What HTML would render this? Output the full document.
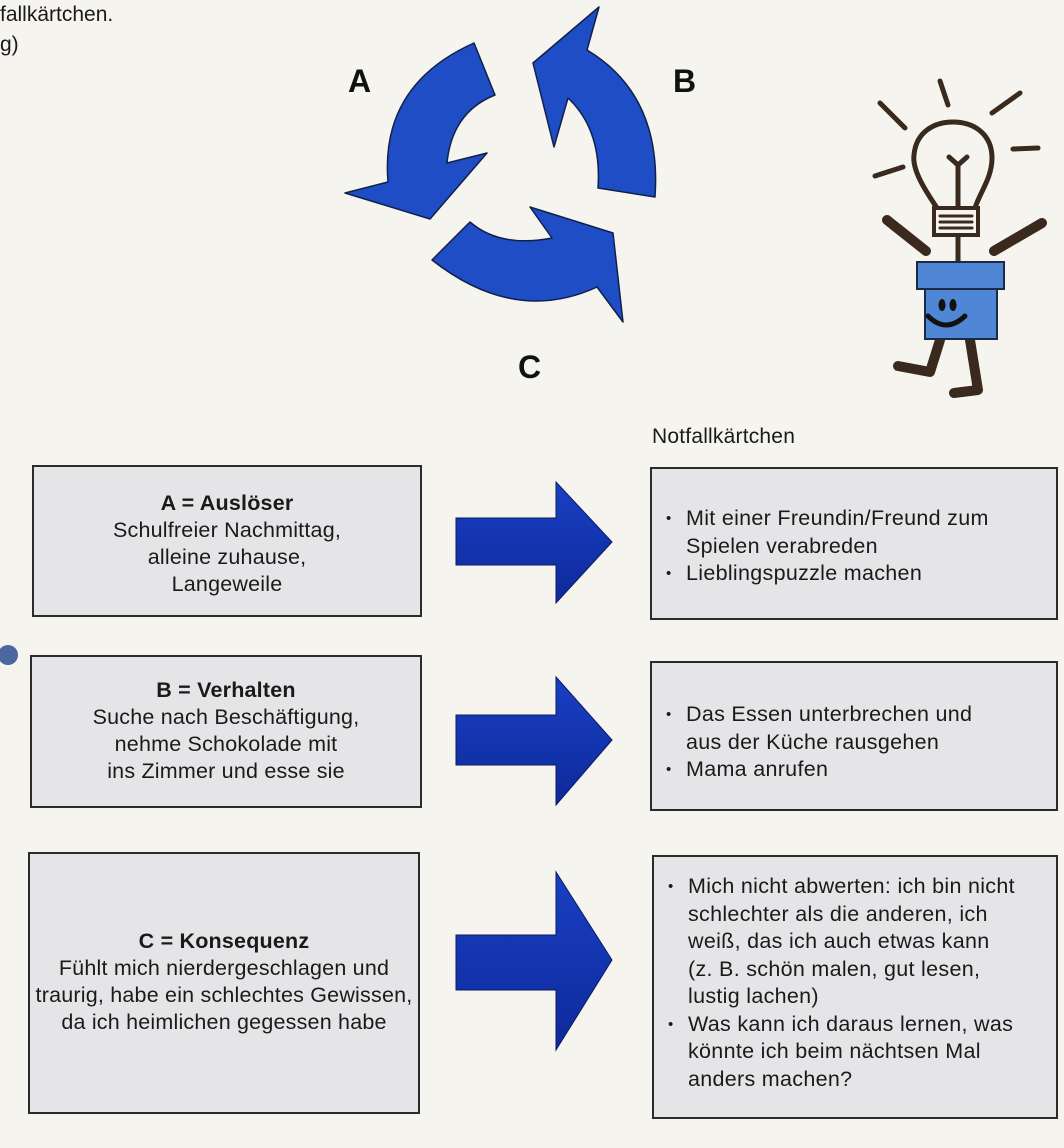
<!DOCTYPE html>
<html><head><meta charset="utf-8">
<style>
html,body{margin:0;padding:0}
body{width:1064px;height:1148px;position:relative;overflow:hidden;background:#f6f4ee;font-family:"Liberation Sans",sans-serif;color:#1a1a1a}
.t{position:absolute;white-space:nowrap}
.box{position:absolute;background:#e5e5e8;border:2px solid #2b2b2b;box-sizing:border-box}
.lc{position:absolute;left:-20px;right:-20px;text-align:center;font-size:21.5px;line-height:27px;letter-spacing:0.2px;white-space:nowrap}
.rc{position:absolute;left:14px;font-size:21.5px;line-height:27.5px;letter-spacing:0.3px;white-space:nowrap}
.rc div{padding-left:20px;position:relative}
.rc div.b::before{content:"•";position:absolute;left:0;font-size:15px}
</style></head><body>
<div class="t" style="left:0;top:3px;font-size:21px">fallkärtchen.</div>
<div class="t" style="left:0;top:33px;font-size:21px">g)</div>
<div style="position:absolute;left:-2px;top:645px;width:20px;height:20px;border-radius:50%;background:#4a67a0"></div>

<svg width="1064" height="420" style="position:absolute;left:0;top:0">
<g fill="#1f4dc6" stroke="#10204a" stroke-width="1.5" stroke-linejoin="round">
<path d="M474,43 L495,95 Q452,112 447,163 L487,153 L430,219 L345,193 L388,182 Q380,85 474,43 Z"/>
<path d="M598,188 L655,197 Q662,95 587,50 L599,7 L533,63 L554,147 L568,98 Q602,130 598,188 Z"/>
<path d="M432,260 L470,222 Q500,248 552,238 L530,207 L613,233 L623,322 L597,287 Q515,325 432,260 Z"/>
</g>
<text x="348" y="92" font-size="32" font-weight="bold" fill="#111" font-family="Liberation Sans,sans-serif">A</text>
<text x="673" y="92" font-size="32" font-weight="bold" fill="#111" font-family="Liberation Sans,sans-serif">B</text>
<text x="518" y="378" font-size="32" font-weight="bold" fill="#111" font-family="Liberation Sans,sans-serif">C</text>

<g stroke="#3a2a1e" stroke-linecap="round" fill="none">
<g stroke-width="5">
<line x1="880" y1="103" x2="905" y2="128"/>
<line x1="940" y1="81" x2="948" y2="105"/>
<line x1="992" y1="113" x2="1020" y2="93"/>
<line x1="1013" y1="149" x2="1038" y2="148"/>
<line x1="875" y1="176" x2="903" y2="167"/>
<path d="M937,208 C925,190 912,170 914,155 C916,132 934,122 953,122 C975,122 992,135 992,158 C992,178 980,192 975,208"/>
<path d="M958,208 L958,165 M958,165 L949,157 M958,165 L967,157"/>
<line x1="958" y1="235" x2="958" y2="262"/>
</g>
<rect x="934" y="208" width="44" height="27" stroke-width="4" fill="#f6f4ee"/>
<g stroke-width="3"><line x1="940" y1="216" x2="972" y2="216"/><line x1="940" y1="222" x2="972" y2="222"/><line x1="940" y1="228" x2="972" y2="228"/></g>
<g stroke-width="10">
<line x1="887" y1="220" x2="926" y2="251"/>
<line x1="1042" y1="223" x2="994" y2="251"/>
<polyline points="940,340 930,372 898,366" stroke-linejoin="round"/>
<polyline points="970,340 978,390 954,393" stroke-linejoin="round"/>
</g>
</g>
<rect x="917" y="262" width="87" height="27" fill="#4f86d6" stroke="#1c2a44" stroke-width="2"/>
<rect x="925" y="289" width="72" height="50" fill="#4f86d6" stroke="#1c2a44" stroke-width="2"/>
<ellipse cx="942" cy="305" rx="3.5" ry="6" fill="#111"/>
<ellipse cx="953" cy="305" rx="3.5" ry="6" fill="#111"/>
<path d="M928,316 Q946,334 965,316" stroke="#111" stroke-width="5" fill="none" stroke-linecap="round"/>
</svg>

<div class="t" style="left:652px;top:425px;font-size:21px;letter-spacing:0.2px">Notfallkärtchen</div>

<div class="box" style="left:32px;top:465px;width:390px;height:152px">
 <div class="lc" style="top:23px"><b>A = Auslöser</b><br>Schulfreier Nachmittag,<br>alleine zuhause,<br>Langeweile</div>
</div>
<div class="box" style="left:30px;top:655px;width:392px;height:153px">
 <div class="lc" style="top:20px"><b>B = Verhalten</b><br>Suche nach Beschäftigung,<br>nehme Schokolade mit<br>ins Zimmer und esse sie</div>
</div>
<div class="box" style="left:28px;top:852px;width:392px;height:262px">
 <div class="lc" style="top:74px"><b>C = Konsequenz</b><br>Fühlt mich nierdergeschlagen und<br>traurig, habe ein schlechtes Gewissen,<br>da ich heimlichen gegessen habe</div>
</div>

<div class="box" style="left:650px;top:467px;width:408px;height:153px">
 <div class="rc" style="top:36px"><div class="b">Mit einer Freundin/Freund zum</div><div>Spielen verabreden</div><div class="b">Lieblingspuzzle machen</div></div>
</div>
<div class="box" style="left:650px;top:661px;width:408px;height:150px">
 <div class="rc" style="top:38px"><div class="b">Das Essen unterbrechen und</div><div>aus der Küche rausgehen</div><div class="b">Mama anrufen</div></div>
</div>
<div class="box" style="left:652px;top:855px;width:406px;height:264px">
 <div class="rc" style="top:16px"><div class="b">Mich nicht abwerten: ich bin nicht</div><div>schlechter als die anderen, ich</div><div>weiß, das ich auch etwas kann</div><div>(z. B. schön malen, gut lesen,</div><div>lustig lachen)</div><div class="b">Was kann ich daraus lernen, was</div><div>könnte ich beim nächtsen Mal</div><div>anders machen?</div></div>
</div>

<svg width="1064" height="1148" style="position:absolute;left:0;top:0">
<defs><linearGradient id="g" x1="0" y1="0" x2="0" y2="1"><stop offset="0" stop-color="#1a3fc4"/><stop offset="1" stop-color="#0d2a9a"/></linearGradient></defs>
<g fill="url(#g)" stroke="#0a1a60" stroke-width="1">
<path d="M456,518 L556,518 L556,482 L612,542 L556,603 L556,565 L456,565 Z"/>
<path d="M456,715 L556,715 L556,677 L612,740 L556,805 L556,765 L456,765 Z"/>
<path d="M456,935 L556,935 L556,872 L612,960 L556,1050 L556,990 L456,990 Z"/>
</g>
</svg>
</body></html>
